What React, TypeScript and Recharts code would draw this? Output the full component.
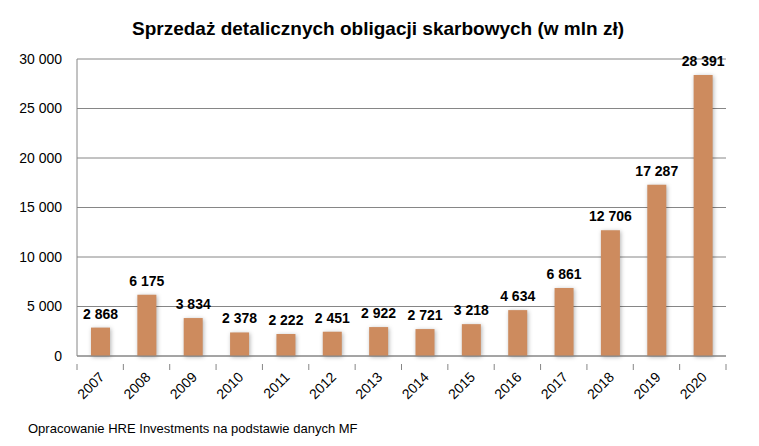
import React from "react";
import { BarChart, Bar, XAxis, YAxis, CartesianGrid, LabelList } from "recharts";

const years = ["2007", "2008", "2009", "2010", "2011", "2012", "2013", "2014", "2015", "2016", "2017", "2018", "2019", "2020"];
const sales = [2868, 6175, 3834, 2378, 2222, 2451, 2922, 2721, 3218, 4634, 6861, 12706, 17287, 28391];
const yTicks = [0, 5000, 10000, 15000, 20000, 25000, 30000];
const title = "Sprzedaż detalicznych obligacji skarbowych (w mln zł)";
const source = "Opracowanie HRE Investments na podstawie danych MF";

const data = years.map((y, i) => ({ year: y, value: sales[i] }));

const fmt = (v: number) => String(v).replace(/\B(?=(\d{3})+(?!\d))/g, " ");
const FONT = "'Liberation Sans', Arial, sans-serif";

const XTick = (props: any) => {
  const { x, y, payload, index, visibleTicksCount } = props;
  const half = payload && payload.offset ? payload.offset : 23;
  const axisY = y;
  return (
    <g>
      <line x1={x - half} y1={axisY} x2={x - half} y2={axisY + 6} stroke="#868686" />
      {index === visibleTicksCount - 1 && (
        <line x1={x + half} y1={axisY} x2={x + half} y2={axisY + 6} stroke="#868686" />
      )}
      <text
        x={x + 5}
        y={axisY + 14}
        transform={`rotate(-45 ${x + 5} ${axisY + 14})`}
        textAnchor="end"
        fontSize={14}
        fontFamily={FONT}
        fill="#000"
      >
        {payload.value}
      </text>
    </g>
  );
};

const ValueLabel = (props: any) => {
  const { x, y, width, value } = props;
  return (
    <text
      x={Number(x) + Number(width) / 2}
      y={Number(y) - 9}
      textAnchor="middle"
      fontSize={14}
      fontWeight="bold"
      fontFamily={FONT}
      fill="#000"
    >
      {fmt(Number(value))}
    </text>
  );
};

export default function App() {
  return (
    <div style={{ position: "absolute", left: 0, top: 0, width: 759, height: 446, background: "#fff" }}>
      <svg width={759} height={446} style={{ position: "absolute", left: 0, top: 0 }}>
        <text x={378} y={35} textAnchor="middle" fontSize={19} fontWeight="bold" fontFamily={FONT} fill="#000">
          {title}
        </text>
        <text x={28} y={433} fontSize={13} fontFamily={FONT} fill="#000">
          {source}
        </text>
      </svg>
      <div style={{ position: "absolute", left: 0, top: 0 }}>
        <BarChart width={759} height={446} data={data} margin={{ top: 59, right: 33, left: 0, bottom: 0 }}>
          <CartesianGrid vertical={false} stroke="#868686" strokeWidth={1} />
          <XAxis
            dataKey="year"
            height={90}
            tickLine={false}
            stroke="#868686"
            tick={<XTick />}
            interval={0}
          />
          <YAxis
            width={77}
            domain={[0, 30000]}
            ticks={yTicks}
            tickFormatter={fmt}
            tickLine={false}
            tickSize={0}
            tickMargin={15}
            stroke="#868686"
            tick={{ fill: "#000", fontSize: 14, fontFamily: FONT }}
            interval={0}
          />
          <Bar
            dataKey="value"
            fill="#CD8B5E"
            barSize={19}
            isAnimationActive={false}
            style={{ filter: "drop-shadow(1px 1px 2px rgba(0,0,0,0.3))" }}
          >
            <LabelList dataKey="value" content={<ValueLabel />} />
          </Bar>
        </BarChart>
      </div>
    </div>
  );
}
